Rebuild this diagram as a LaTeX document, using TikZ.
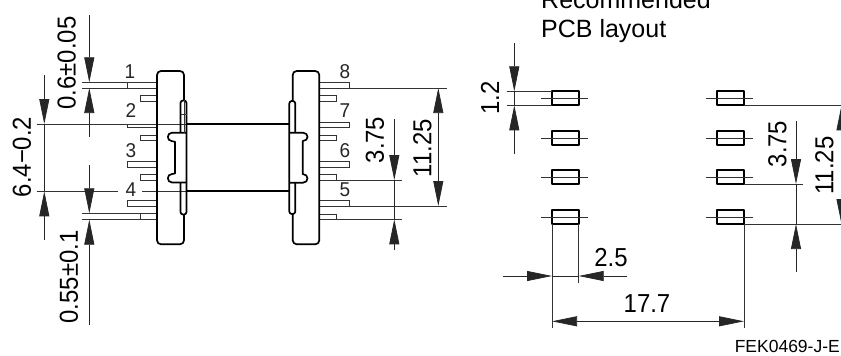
\documentclass[tikz,border=0pt]{standalone}
\usepackage{fontspec}
\setmainfont{Liberation Sans}
\usetikzlibrary{arrows.meta}
\tikzset{
  thinline/.style={line width=0.8pt,draw=black!80},
  heavy/.style={line width=1.7pt,draw=black,line join=round},
  dimtip/.tip={Triangle[length=25pt,width=10pt]},
  dimline/.style={line width=0.75pt,draw=black!85},
  big/.style={inner sep=0pt},
  pinlabel/.style={inner sep=0pt,text=black!85},
  vert/.style={rotate=90},
}
\newcommand{\bigtxt}[1]{\fontsize{26}{26}\selectfont\scalebox{0.92}[1]{#1}}
\newcommand{\pintxt}[1]{\fontsize{20}{20}\selectfont\scalebox{0.95}[1]{#1}}
\newcommand{\pinL}[3]{\draw[thinline] (157,#1) -- (#3,#1) -- (#3,#2) -- (157,#2);}
\newcommand{\pinR}[3]{\draw[thinline] (319.3,#1) -- (#3,#1) -- (#3,#2) -- (319.3,#2);}
\newcommand{\padL}[2]{\draw[heavy] (551.7,#1) rectangle (578.7,#1+14); \draw[thinline] (541,#2) -- (587.7,#2);}
\newcommand{\padR}[2]{\draw[heavy] (717,#1) rectangle (744.3,#1+14); \draw[thinline] (706,#2) -- (752.7,#2);}
\begin{document}
\begin{tikzpicture}[x=1pt,y=-1pt]
\useasboundingbox (0,0) rectangle (841,356);
\clip (0,0) rectangle (841,356);

% left transformer pins
\pinL{82.3}{88}{127.5}
\pinL{95.7}{101.3}{140.7}
\pinL{124}{127.3}{127.5}
\pinL{135}{140.7}{140.7}
\pinL{161.5}{167}{127.5}
\pinL{174.7}{180}{140.7}
\pinL{200.7}{206}{127.5}
\pinL{213.3}{219.7}{140.7}
% right transformer pins
\pinR{82.7}{88}{349}
\pinR{95.7}{101}{336.3}
\pinR{122}{127.3}{349}
\pinR{135}{140.7}{336.3}
\pinR{161.7}{167.3}{349}
\pinR{174.3}{180}{336.3}
\pinR{200.7}{206}{349}
\pinR{214}{219.3}{336.3}

% extension lines
\draw[thinline] (82.3,82.3) -- (157,82.3);
\draw[thinline] (82.3,88) -- (157,88);
\draw[thinline] (82.3,213.3) -- (157,213.3);
\draw[thinline] (82.3,219.7) -- (157,219.7);
\draw[thinline] (36.7,124) -- (186,124);
\draw[thinline] (36.7,191.3) -- (118,191.3);
\draw[thinline] (142,191.3) -- (186,191.3);
\draw[thinline] (349,88) -- (446.7,88);
\draw[thinline] (349,206) -- (446.7,206);
\draw[thinline] (336.3,180) -- (401.7,180);
\draw[thinline] (336.3,219.3) -- (401.7,219.3);

% left bobbin
\draw[heavy,rounded corners=4pt] (184,100) -- (184,71) -- (157,71) -- (157,244.3) -- (184,244.3) -- (184,214);
\draw[heavy,rounded corners=2.5pt] (180.5,132.7) -- (180.5,100.5) -- (186.5,100.5) -- (186.5,214.5) -- (180.5,214.5) -- (180.5,182.5);
\draw[heavy] (186.5,132.7) -- (172,132.7) .. controls (166.5,132.7) and (166.5,141) .. (172,141.2) -- (175,141.7) -- (175,173.5) -- (172,174) .. controls (166.5,174) and (166.5,182.5) .. (172,182.5) -- (186.5,182.5);
\draw[thinline] (180.5,114) -- (186.5,114);
\draw[thinline] (184,100) -- (184,132.7);

% right bobbin
\draw[heavy,rounded corners=4pt] (292.7,101) -- (292.7,71) -- (319.3,71) -- (319.3,244.3) -- (292.7,244.3) -- (292.7,214);
\draw[heavy,rounded corners=2.5pt] (295.3,132.7) -- (295.3,101) -- (289.3,101) -- (289.3,214) -- (295.3,214) -- (295.3,182.7);
\draw[heavy] (289.3,132.7) -- (303,132.7) .. controls (309,132.7) and (309,141) .. (303,141) -- (302.7,141) -- (302.7,174) .. controls (309,174) and (309,182.7) .. (303,182.7) -- (289.3,182.7);

% windings
\draw[heavy] (186.5,124) -- (289.3,124);
\draw[heavy] (186.5,191.3) -- (289.3,191.3);

% pin labels
\node[pinlabel] (p1) at (130,72) {\pintxt{1}};
\node[pinlabel] (p2) at (131,111) {\pintxt{2}};
\node[pinlabel] (p3) at (131,150.7) {\pintxt{3}};
\node[pinlabel] (p4) at (131,190) {\pintxt{4}};
\node[pinlabel] (p8) at (345,71.7) {\pintxt{8}};
\node[pinlabel] (p7) at (345,110.7) {\pintxt{7}};
\node[pinlabel] (p6) at (345,150.7) {\pintxt{6}};
\node[pinlabel] (p5) at (345,190) {\pintxt{5}};

% dimensions, transformer
\draw[dimline,-{dimtip}] (89.3,15) -- (89.3,82.3);
\draw[dimline,-{dimtip}] (89.3,136.7) -- (89.3,88);
\draw[dimline,-{dimtip}] (89.3,165) -- (89.3,213.3);
\draw[dimline,-{dimtip}] (89.3,325) -- (89.3,219.7);
\draw[dimline,-{dimtip}] (44.3,75) -- (44.3,124);
\draw[dimline,-{dimtip}] (44.3,240) -- (44.3,191.3);
\draw[dimline] (44.3,124) -- (44.3,191.3);
\draw[dimline,{dimtip}-{dimtip}] (438.3,88) -- (438.3,206);
\draw[dimline,-{dimtip}] (394.3,119) -- (394.3,180);
\draw[dimline,-{dimtip}] (394.3,250) -- (394.3,219.3);
\draw[dimline] (394.3,180) -- (394.3,219.3);

\node[big,vert] (d06) at (66.7,63) {\bigtxt{0.6±0.05}};
\node[big,vert] (d64) at (22,157) {\bigtxt{6.4−0.2}};
\node[big,vert] (d055) at (69,277) {\bigtxt{0.55±0.1}};
\node[big,vert] (d375) at (375,140) {\bigtxt{3.75}};
\node[big,vert] (d1125) at (422.5,148) {\bigtxt{11.25}};

% PCB layout
\padL{91.3}{98.3}
\padL{131}{138}
\padL{170}{177}
\padL{210}{217}
\padR{91.3}{98.5}
\padR{131}{138}
\padR{170.3}{177}
\padR{210}{217}

\draw[thinline] (506.7,91.3) -- (551.7,91.3);
\draw[thinline] (506.7,105.3) -- (551.7,105.3);
\draw[dimline,-{dimtip}] (514.3,43.3) -- (514.3,91.3);
\draw[dimline,-{dimtip}] (514.3,154) -- (514.3,105.3);
\draw[dimline] (514.3,91.3) -- (514.3,105.3);

\draw[thinline] (744.3,105.3) -- (841,105.3);
\draw[thinline] (744.3,184) -- (803.3,184);
\draw[thinline] (744.3,224) -- (841,224);
\draw[thinline] (552,224) -- (552,328);
\draw[thinline] (578.7,224) -- (578.7,283.3);
\draw[thinline] (744,224) -- (744,328);

\draw[dimline,-{dimtip}] (796,121) -- (796,184);
\draw[dimline,-{dimtip}] (796,271.7) -- (796,224);
\draw[dimline] (796,184) -- (796,224);
\draw[dimline,{dimtip}-{dimtip}] (841.5,105.3) -- (841.5,224);

\draw[dimline,-{dimtip}] (503.3,276) -- (552,276);
\draw[dimline,-{dimtip}] (627.3,276) -- (578.7,276);
\draw[dimline] (552,276) -- (578.7,276);
\draw[dimline,{dimtip}-{dimtip}] (552,321.3) -- (744,321.3);

\node[big,vert] (d12) at (490,98) {\bigtxt{1.2}};
\node[big,vert] (e375) at (777.5,144) {\bigtxt{3.75}};
\node[big,vert] (e1125) at (824.5,165.5) {\bigtxt{11.25}};
\node[big] (d25) at (611,257.5) {\bigtxt{2.5}};
\node[big] (d177) at (647,304) {\bigtxt{17.7}};

\node[inner sep=0pt,anchor=base west,font=\fontsize{25}{25}\selectfont] (t1) at (541,8.5) {Recommended};
\node[inner sep=0pt,anchor=base west,font=\fontsize{25}{25}\selectfont] (t2) at (541,37.7) {PCB layout};
\node[inner sep=0pt,anchor=base east,font=\fontsize{17.5}{17.5}\selectfont] (fek) at (840,352) {FEK0469-J-E};
\end{tikzpicture}
\end{document}
